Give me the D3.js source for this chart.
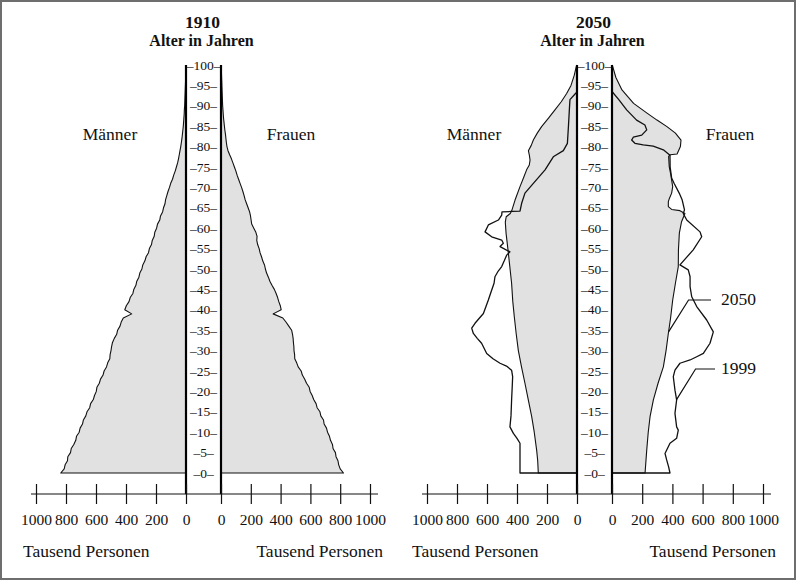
<!DOCTYPE html>
<html><head><meta charset="utf-8">
<script src="https://cdn.jsdelivr.net/npm/d3@7"></script>
<style>
body{margin:0;background:#fff}
svg{display:block}
text{font-family:"Liberation Serif","Times New Roman",serif;fill:#111}
</style>
</head><body>
<svg id="c" width="798" height="582"></svg>
<script>
// ---------------- DATA ----------------
const ages1910 = d3.range(0, 101);
const men1910 = [835,812,806,790,788,770,765,748,735,730,712,706,690,684,668,660,642,636,618,610,
  598,594,578,570,553,546,530,522,508,506,500,496,490,478,462,456,440,432,418,362,
  408,398,380,372,354,348,334,328,314,308,294,288,274,266,250,244,230,225,212,208,
  196,190,175,170,156,150,140,136,128,120,110,102,90,82,72,64,56,50,45,40,
  35,31,27,24,21,18,16,14,12,11,9,8,7,6,5,4,3,3,2,2,1];
const women1910 = [822,800,790,785,772,768,752,748,735,728,715,708,692,688,670,664,645,638,622,612,
  598,592,574,562,546,538,518,508,495,494,490,489,486,484,480,474,455,436,415,350,
  404,398,388,380,370,358,342,328,318,306,298,292,280,272,262,256,246,240,242,234,
  220,206,202,198,192,182,172,162,155,147,138,128,118,108,100,90,80,70,58,47,
  40,36,33,30,26,23,20,17,15,13,11,10,9,8,7,6,5,4,3,3,2];

// 2050 panel: [age, thousand persons]
const men2050 = [[0,258],[3,262],[5.6,269],[10,285],[13.8,302],[18,325],[22,347],[26,370],[30,391],[34,405],
  [38.3,418],[42,428],[46.5,436],[50.6,448],[54.7,460],[58.8,473],[61.5,478],[62.8,472],[63.6,445],[64.2,436],
  [66.9,413],[70.2,380],[72.5,355],[74.3,336],[75.5,318],[76.7,313],[78,318],[79,324],[80.3,305],[81.6,291],
  [83.3,265],[84.9,236],[87,190],[89,147],[91,105],[93,69],[95,40],[97.5,18],[99.6,5],[100,0]];
const men1999 = [[0,380],[4.8,380],[7.3,380],[8.5,400],[9.7,424],[11.3,447],[14,440],[17.9,436],[21,432],[23.6,429],
  [25.2,436],[26.2,470],[26.9,513],[28,560],[29.3,602],[31.8,636],[33,665],[34.2,691],[35.5,702],[36.7,680],
  [38,650],[39.1,624],[42.4,591],[44.5,572],[46.5,553],[48.1,547],[49.5,525],[50.6,502],[52,485],[53.4,469],
  [54.2,447],[55.5,513],[56.3,491],[57.1,502],[57.9,569],[59.1,613],[60.8,591],[62,524],[63.2,502],[64,500],
  [64.1,436],[64.2,380],[66.1,369],[68.6,347],[71,291],[74.3,213],[77.5,158],[79,91],[80.8,64],[85,57],
  [89,51],[91.5,47],[93,10],[93.5,0]];
const women2050 = [[0,219],[5.6,230],[10,240],[13.8,252],[17.9,274],[22,305],[26,340],[30,358],[34.2,373],[38,388],
  [42.4,402],[46.5,420],[50.6,439],[54.7,440],[58.8,446],[61.5,460],[63.6,483],[64.3,450],[64.6,395],[65.3,373],
  [66.5,373],[67.3,380],[68.6,395],[70.2,402],[71.8,395],[73,390],[75.1,379],[77.6,375],[78,386],[78.2,431],
  [80,453],[81.6,457],[83.3,420],[84.9,364],[86.5,298],[88.2,232],[90.6,143],[93.9,66],[97,25],[99.6,5],[100,0]];
const women1999 = [[0,384],[1.5,375],[3.2,362],[4.8,351],[7.3,384],[8.5,428],[10.5,439],[11.3,428],[14.6,417],[17.9,428],
  [20.3,417],[23.6,406],[25.2,417],[26.9,450],[27.7,517],[28.5,561],[29.3,605],[31.8,649],[34.6,671],[37.5,627],
  [40.8,561],[43.2,528],[45.7,517],[48.1,517],[49.8,505],[51,450],[54.7,538],[57.9,594],[59.1,583],[62,495],
  [63.6,472],[64.5,480],[66.9,465],[68.6,445],[71,411],[72.3,395],[75,385],[77.9,384],[79.2,340],[80.1,273],
  [80.4,207],[80.8,152],[81.6,130],[82.3,141],[82.8,197],[84.1,230],[85.3,218],[86.5,163],[89,97],[91.5,45],[93.5,0]];

const ageTicks = d3.range(0, 101, 5);
const popTicks = [0, 200, 400, 600, 800, 1000];
const panelTitles = ["1910", "2050"];
const axisTitle = "Alter in Jahren";
const sexLabels = ["Männer", "Frauen"];
const unitLabel = "Tausend Personen";
const legendLabels = ["2050", "1999"];
const legendAges = [34.6, 18];

// ---------------- DRAW ----------------
const svg = d3.select("#c");
svg.append("rect").attr("x",1).attr("y",1).attr("width",794).attr("height",578)
  .attr("fill","#fff").attr("stroke","#6e6e6e").attr("stroke-width",2);

const y = d3.scaleLinear().domain([0, 100]).range([473, 65]);
const FILL = "#e1e1e1";

function interp(series, age){
  for(let i=1;i<series.length;i++){
    if(series[i][0] >= age){
      const a=series[i-1], b=series[i];
      const t=(age-a[0])/(b[0]-a[0]);
      return a[1]+t*(b[1]-a[1]);
    }
  }
  return series[series.length-1][1];
}

function panel(p){
  const g = svg.append("g");
  const xL = d3.scaleLinear().domain([0,1000]).range([p.lc, p.lEnd]);
  const xR = d3.scaleLinear().domain([0,1000]).range([p.rc, p.rEnd]);

  const drawSide = (x, fillData, lineData) => {
    const pts = [[0,0], ...fillData];
    const area = d3.area().y(d=>y(d[0])).x0(x(0)).x1(d=>x(d[1]));
    const line = d3.line().x(d=>x(d[1])).y(d=>y(d[0]));
    g.append("path").attr("d", area(pts)).attr("fill", FILL);
    g.append("path").attr("d", line(pts)).attr("fill","none").attr("stroke","#111").attr("stroke-width",1.1).attr("stroke-linejoin","round");
    if(lineData){
      const lp = [[0,0], ...lineData];
      g.append("path").attr("d", line(lp)).attr("fill","none").attr("stroke","#111").attr("stroke-width",1.3).attr("stroke-linejoin","round");
    }
  };
  drawSide(xL, p.men, p.men2);
  drawSide(xR, p.women, p.women2);

  // centre lines
  [p.lc, p.rc].forEach(cx=>{
    g.append("line").attr("x1",cx).attr("x2",cx).attr("y1",y(100)).attr("y2",494)
      .attr("stroke","#000").attr("stroke-width",2.2);
  });

  // age labels
  const mid = (p.lc+p.rc)/2;
  g.selectAll(".age").data(ageTicks).join("text")
    .attr("x", mid).attr("y", d=>y(d)+4.5).attr("text-anchor","middle")
    .style("font-size","13.5px").text(d=>"\u2013"+d+"\u2013");

  // bottom axes
  const ay = 494;
  g.append("line").attr("x1", p.lEnd-5).attr("x2", p.rEnd+8).attr("y1",ay).attr("y2",ay)
    .attr("stroke","#111").attr("stroke-width",1.2);
  [xL, xR].forEach(sc=>{
    const ax = g.append("g").attr("transform",`translate(0,${ay})`)
      .call(d3.axisBottom(sc).tickValues(popTicks).tickSize(10).tickFormat(d3.format("d")));
    ax.select(".domain").remove();
    ax.selectAll(".tick line").attr("y1",-10).attr("y2",10).attr("stroke","#111").attr("stroke-width",1.2);
    ax.selectAll(".tick text").attr("y",31).attr("dy",0).style("font-size","15.5px")
      .style("font-family","'Liberation Serif',serif").attr("fill","#111");
  });

  // titles
  g.append("text").attr("x", mid-1).attr("y",28).attr("text-anchor","middle")
    .style("font-size","17.5px").style("font-weight","bold").text(p.title);
  g.append("text").attr("x", mid-2).attr("y",46).attr("text-anchor","middle")
    .style("font-size","16px").style("font-weight","bold").text(axisTitle);

  // sex labels
  g.append("text").attr("x",p.menX).attr("y",140).attr("text-anchor","middle").style("font-size","17.5px").text(sexLabels[0]);
  g.append("text").attr("x",p.womenX).attr("y",140).attr("text-anchor","middle").style("font-size","17.5px").text(sexLabels[1]);

  // unit labels
  g.append("text").attr("x",p.unitL).attr("y",557).style("font-size","17.5px").text(unitLabel);
  g.append("text").attr("x",p.unitR).attr("y",557).attr("text-anchor","end").style("font-size","17.5px").text(unitLabel);

  return {xL, xR};
}

panel({lc:186, rc:221, lEnd:36, rEnd:370, men:ages1910.map((a,i)=>[a,men1910[i]]),
  women:ages1910.map((a,i)=>[a,women1910[i]]), title:panelTitles[0],
  menX:110, womenX:291, unitL:23, unitR:383});

const s2 = panel({lc:577, rc:612, lEnd:427, rEnd:763, men:men2050, men2:men1999,
  women:women2050, women2:women1999, title:panelTitles[1],
  menX:474, womenX:730, unitL:412, unitR:776});

// legend leaders
const legSeries = [women2050, women1999];
const legY = [300, 369];
legendLabels.forEach((lab,i)=>{
  const ax = s2.xR(interp(legSeries[i], legendAges[i]));
  const ayy = y(legendAges[i]);
  const ex = ax + (i===0?20:19);
  svg.append("polyline").attr("points",`${ax},${ayy} ${ex},${legY[i]} ${i===0?711:715},${legY[i]}`)
    .attr("fill","none").attr("stroke","#111").attr("stroke-width",1.2);
  svg.append("text").attr("x",721).attr("y",legY[i]+5).style("font-size","17.5px").text(lab);
});
</script>
</body></html>
